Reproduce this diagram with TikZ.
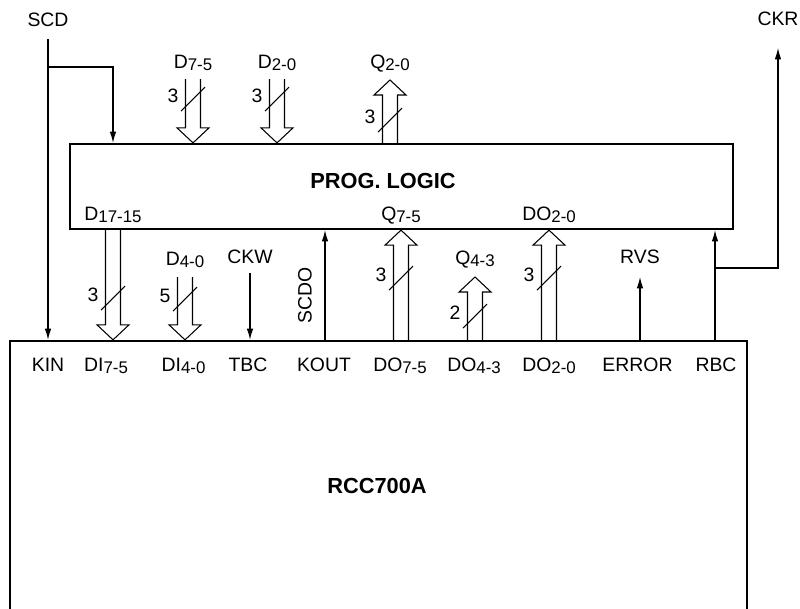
\documentclass[tikz,border=0pt]{standalone}
\usepackage{fontspec}
\setmainfont{Liberation Sans}
\usetikzlibrary{arrows.meta,calc,positioning}

% Index etwas tiefer und kleiner
\newcommand{\lo}[1]{\raisebox{-1.9pt}{\fontsize{12}{14}\selectfont #1}}
% Bus nach unten / nach oben (Start, Spitze)
\newcommand{\busdown}[2]{%
  \draw[bus] ($(#1)+(-7.5,0)$) -- ($(#2)+(-7.5,-15)$) -- ($(#2)+(-16,-15)$) -- (#2)
    -- ($(#2)+(16,-15)$) -- ($(#2)+(7.5,-15)$) -- ($(#1)+(7.5,0)$);}
\newcommand{\busup}[2]{%
  \draw[bus] ($(#1)+(-7.5,0)$) -- ($(#2)+(-7.5,15)$) -- ($(#2)+(-16,15)$) -- (#2)
    -- ($(#2)+(16,15)$) -- ($(#2)+(7.5,15)$) -- ($(#1)+(7.5,0)$);}
% Busbreite: Name, Spalte, Hoehe, Anzahl
\newcommand{\buscount}[4]{%
  \coordinate (#1) at (#2 |- 0,#3);
  \draw[sig] ($(#1)+(-12,12)$) -- ($(#1)+(12,-12)$);
  \node[inner sep=0pt] (#1-n) at ($(#1)+(-20,-3)$) {#4};}

\begin{document}
\begin{tikzpicture}[x=0.025cm, y=-0.025cm,
					>={Latex[length=8pt,width=4.6pt]},   %Pfeilspitzen
					font=\fontsize{13.8}{16}\selectfont,
					sig/.style={line width=0.75pt},
					bus/.style={line width=0.75pt, fill=white},
					block/.style={draw, line width=1.6pt, inner sep=0pt},
					lbl/.style={anchor=base, inner sep=0pt},
					title/.style={font=\fontsize{15.5}{18}\selectfont\bfseries}]
					%Bildbereich
					\useasboundingbox (0,0) rectangle (800,608);
					\clip (0,0) rectangle (800,608);
					% Bloecke
					\node[block, minimum width=16.575cm, minimum height=2.125cm] (prog) at (401.5,186.5) {};
					\node[block, minimum width=18.425cm, minimum height=7.6cm] (rcc) at (378.5,493) {};
					\node[title, lbl] (proglbl) at (383,188) {PROG.~LOGIC};
					\node[title, lbl] (rcclbl) at (377,493) {RCC700A};
					% Beschriftung oben
					\node[lbl] (scd) at (48,26) {SCD};
					\node[lbl] (ckr) at (778,25) {CKR};
					\node[lbl] (d75) at (193,68) {D\lo{7-5}};
					\node[lbl] (d20) at (277,68) {D\lo{2-0}};
					\node[lbl] (q20) at (390,68) {Q\lo{2-0}};
					% Beschriftung PROG. LOGIC
					\node[lbl] (d1715) at (113,220) {D\lo{17-15}};
					\node[lbl] (q75) at (401,220) {Q\lo{7-5}};
					\node[lbl] (do20p) at (549,220) {DO\lo{2-0}};
					% Beschriftung dazwischen
					\node[lbl] (d40) at (185,265) {D\lo{4-0}};
					\node[lbl] (ckw) at (250,263) {CKW};
					\node[rotate=90, inner sep=0pt] (scdo) at (305,295) {SCDO};
					\node[lbl] (q43) at (475,264) {Q\lo{4-3}};
					\node[lbl] (rvs) at (640,263) {RVS};
					% Anschluesse RCC700A
					\foreach \x/\n/\t in {48/kin/KIN, 106/di75/DI\lo{7-5}, 183.5/di40/DI\lo{4-0}, 248/tbc/TBC, 324/kout/KOUT,
						400/do75/DO\lo{7-5}, 474/do43/DO\lo{4-3}, 549/do20/DO\lo{2-0}, 637.5/error/ERROR, 716/rbc/RBC}
						\node[lbl] (\n) at (\x,371) {\t};
					% Einzelleitungen
					\coordinate (scd-a) at ($(scd.base)+(0,13)$);
					\coordinate (scd-b) at ($(scd.base)+(0,41)$);
					\coordinate (scd-c) at (113,67);
					\draw[sig,->] (scd-a) -- (scd-a |- rcc.north);
					\draw[sig,->] (scd-b) -- (scd-c) -- (scd-c |- prog.north);
					\coordinate (ckw-a) at ($(ckw.base)+(0,10)$);
					\draw[sig,->] (ckw-a) -- (ckw-a |- rcc.north);
					\coordinate (kout-a) at (325,0);
					\draw[sig,->] (kout-a |- rcc.north) -- (kout-a |- prog.south);
					\coordinate (rvs-a) at ($(rvs.base)+(0,14)$);
					\draw[sig,->] (rvs-a |- rcc.north) -- (rvs-a);
					\coordinate (rbc-b) at (715,268);
					\coordinate (ckr-a) at ($(ckr.base)+(0,23)$);
					\draw[sig,->] (rbc-b |- rcc.north) -- (rbc-b |- prog.south);
					\draw[sig,->] (rbc-b) -| (ckr-a);
					% Busse
					\coordinate (d75-a) at ($(d75.base)+(0,11)$);
					\coordinate (d20-a) at ($(d20.base)+(0,11)$);
					\coordinate (q20-a) at ($(q20.base)+(0,12)$);
					\coordinate (d40-a) at ($(d40.base)+(0,12)$);
					\coordinate (q43-a) at ($(q43.base)+(0,13)$);
					\busdown{d75-a}{d75-a |- prog.north}
					\busdown{d20-a}{d20-a |- prog.north}
					\busup{q20-a |- prog.north}{q20-a}
					\busdown{d1715 |- prog.south}{d1715 |- rcc.north}
					\busdown{d40-a}{d40-a |- rcc.north}
					\busup{q75 |- rcc.north}{q75 |- prog.south}
					\busup{q43-a |- rcc.north}{q43-a}
					\busup{do20p |- rcc.north}{do20p |- prog.south}
					% Busbreiten
					\buscount{w1}{d75}{99}{3}
					\buscount{w2}{d20}{99}{3}
					\buscount{w3}{q20}{120}{3}
					\buscount{w4}{d1715}{298}{3}
					\buscount{w5}{d40}{299}{5}
					\buscount{w6}{q75}{278}{3}
					\buscount{w7}{q43}{316}{2}
					\buscount{w8}{do20p}{278}{3}
				\end{tikzpicture}
\end{document}
